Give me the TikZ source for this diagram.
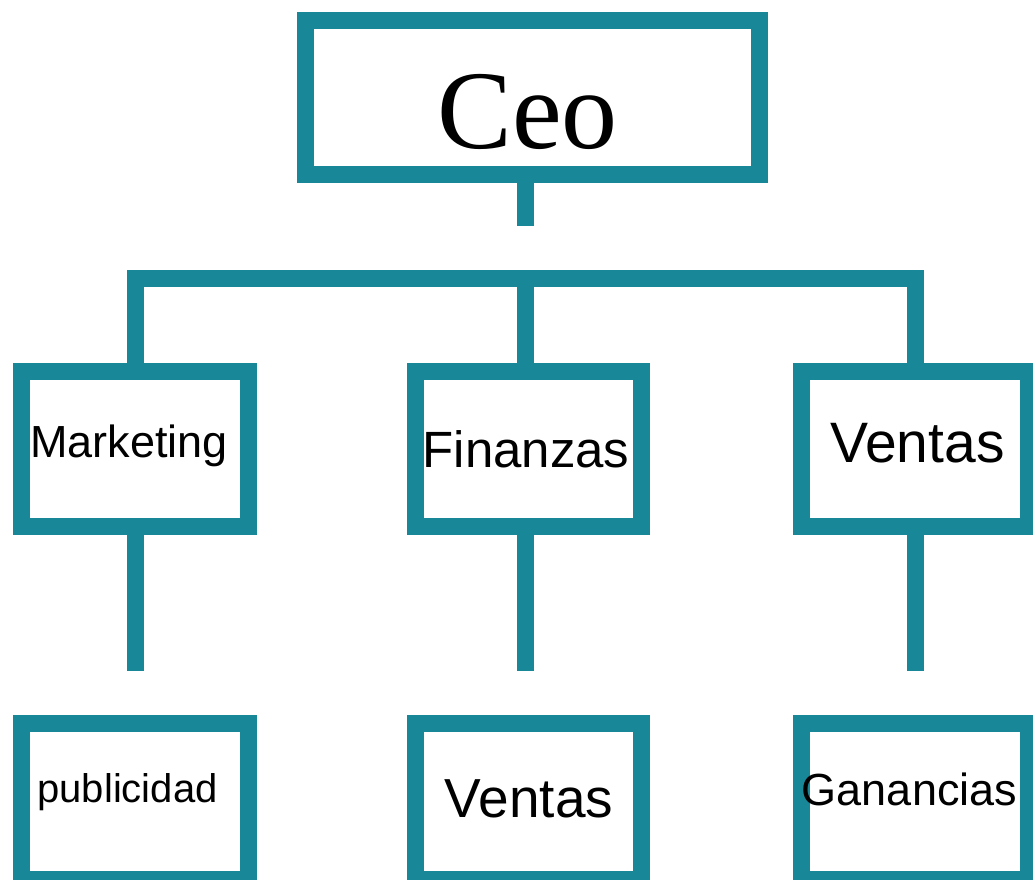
\documentclass[tikz,border=0pt]{standalone}
\usepackage{fontspec}
\setmainfont{Liberation Sans}
\newfontfamily\ceofont{Liberation Serif}
\usepackage{tikz}

\definecolor{orgteal}{RGB}{24,136,153}

\tikzset{
    box/.style={draw=orgteal, line width=17pt, fill=white, inner sep=0pt,
        minimum width=227pt, minimum height=155pt},
    link/.style={draw=orgteal, line width=17pt, line join=miter},
    boxtext/.style={anchor=base, inner sep=0pt, text=black}
}

\begin{document}
\begin{tikzpicture}[x=1pt,y=-1pt]
            \useasboundingbox (0,0) rectangle (1033,879);

            % ceo
            \node[box, minimum width=454pt, minimum height=154pt] (ceo) at (532.5,97.5) {};
            \node[boxtext] (ceotxt) at (527.5,148) {\ceofont\fontsize{112}{130}\selectfont Ceo};

            % second row
            \node[box] (mkt) at (135,449) {};
            \node[box, minimum width=226pt] (fin) at (528.5,449) {};
            \node[box] (vnt) at (915,449) {};
            \node[boxtext] (mkttxt) at (129,457) {\fontsize{45}{54}\selectfont Marketing};
            \node[boxtext] (fintxt) at (526,467) {\fontsize{51}{60}\selectfont Finanzas};
            \node[boxtext] (vnttxt) at (917.5,462) {\fontsize{57}{66}\selectfont Ventas};

            % third row
            \node[box, minimum height=156pt] (pub) at (135,801.5) {};
            \node[box, minimum width=226pt, minimum height=156pt] (ven) at (528.5,801.5) {};
            \node[box, minimum height=156pt] (gan) at (915,801.5) {};
            \node[boxtext] (pubtxt) at (127.5,802) {\fontsize{40}{48}\selectfont publicidad};
            \node[boxtext] (ventxt) at (529,817) {\fontsize{55}{64}\selectfont Ventas};
            \node[boxtext] (gantxt) at (909.5,805) {\fontsize{45}{54}\selectfont Ganancias};

            % connectors
            \coordinate (ceostem) at (525,226);
            \coordinate (bus) at (0,278.5);
            \coordinate (stemend) at (0,671);
            \draw[link] (ceostem |- ceo.south) -- (ceostem);
            \draw[link] (mkt.north) -- (mkt.north |- bus) -- (vnt.north |- bus) -- (vnt.north);
            \draw[link] (ceostem |- fin.north) -- (ceostem |- bus);

            % stems below second row
            \foreach \b in {mkt,vnt}
                \draw[link] (\b.south) -- (\b.south |- stemend);
            \draw[link] (ceostem |- fin.south) -- (ceostem |- stemend);
        \end{tikzpicture}
\end{document}
